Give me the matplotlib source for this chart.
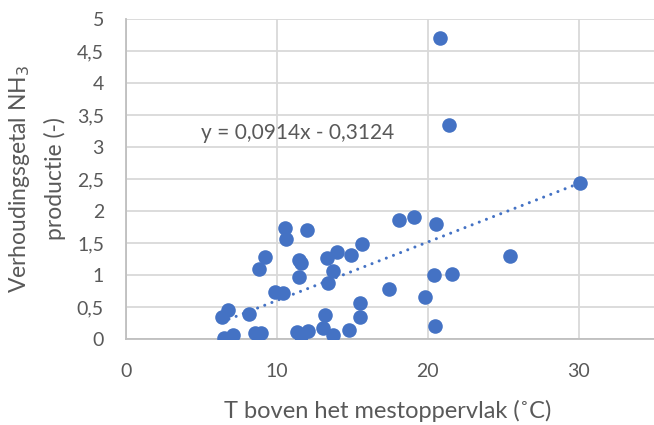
import matplotlib
matplotlib.use('Agg')
import matplotlib.pyplot as plt
import numpy as np

# data
temp = [6.34, 6.78, 6.49, 7.1, 8.15, 8.54, 8.92, 8.83, 9.2, 9.87,
        10.38, 10.53, 10.57, 12.0, 11.48, 11.56, 11.48, 11.35, 11.57, 12.07,
        13.07, 13.2, 13.69, 13.29, 13.69, 13.36, 14.0, 14.88, 15.65, 14.79,
        15.5, 15.5, 17.44, 18.1, 19.07, 20.84, 21.41, 30.07, 20.53, 25.43,
        20.4, 21.59, 19.8, 20.5]
ratio = [0.35, 0.46, 0.01, 0.07, 0.39, 0.09, 0.09, 1.09, 1.28, 0.73,
         0.72, 1.74, 1.57, 1.70, 1.24, 1.19, 0.97, 0.11, 0.04, 0.13,
         0.17, 0.37, 0.06, 1.27, 1.07, 0.87, 1.36, 1.31, 1.48, 0.14,
         0.34, 0.57, 0.78, 1.86, 1.90, 4.71, 3.35, 2.44, 1.79, 1.29,
         1.00, 1.01, 0.65, 0.20]
slope = 0.0914
intercept = -0.3124
x_ticks = [0, 10, 20, 30]
y_ticks = [0, 0.5, 1, 1.5, 2, 2.5, 3, 3.5, 4, 4.5, 5]
y_labels = ['0', '0,5', '1', '1,5', '2', '2,5', '3', '3,5', '4', '4,5', '5']

blue = '#4472C4'
grey_txt = '#595959'
plt.rcParams['font.family'] = ['Lato', 'DejaVu Sans']

fig = plt.figure(figsize=(6.54, 4.25), dpi=100)
ax = fig.add_axes([0.193, 0.2024, 0.807, 0.7526])

ax.scatter(temp, ratio, s=110, color=blue, zorder=3, linewidths=0)

# trendline over the data range
xs = np.array([min(temp), max(temp)])
ax.plot(xs, slope * xs + intercept, color=blue, lw=2.2,
        linestyle=(0, (0.01, 2.5)), dash_capstyle='round', zorder=2)

ax.text(4.95, 3.13, 'y = 0,0914x - 0,3124', fontsize=15, color=grey_txt,
        va='baseline', ha='left')

ax.set_xlim(0, 35)
ax.set_ylim(0, 5)
ax.set_xticks(x_ticks)
ax.set_yticks(y_ticks)
ax.set_yticklabels(y_labels)
ax.grid(True, color='#D9D9D9', lw=1.3)
ax.set_axisbelow(True)
for s in ['top', 'right']:
    ax.spines[s].set_visible(False)
for s in ['left', 'bottom']:
    ax.spines[s].set_color('#BFBFBF')
    ax.spines[s].set_linewidth(1.3)
ax.tick_params(length=0, labelsize=14, colors=grey_txt)
ax.tick_params(axis='x', pad=17)
ax.tick_params(axis='y', pad=16)

# axis titles
fig.text(388 / 654, 1 - 418 / 425, 'T boven het mestoppervlak (˚C)',
         fontsize=17, color=grey_txt, ha='center', va='baseline')
fig.text(20 / 654, 1 - 179 / 425, 'Verhoudingsgetal NH$_3$', fontsize=16.5,
         color=grey_txt, ha='center', va='center', rotation=90)
fig.text(55 / 654, 1 - 179 / 425, 'productie (-)', fontsize=16.5,
         color=grey_txt, ha='center', va='center', rotation=90)

fig.savefig('out.png', dpi=100)
